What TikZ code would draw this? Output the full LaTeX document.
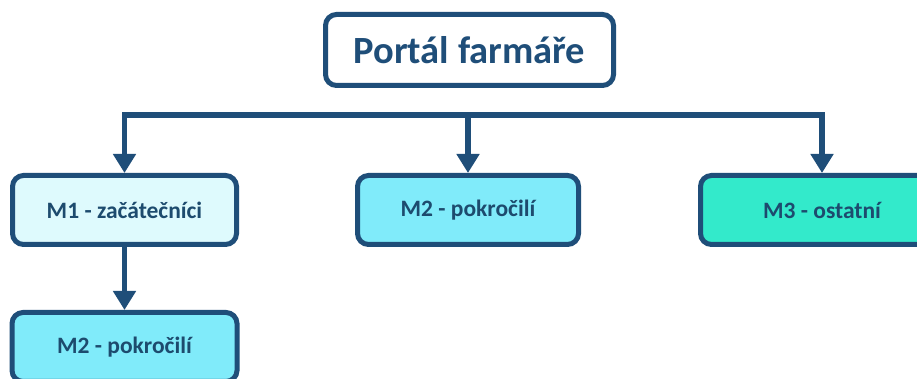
\documentclass[tikz,border=0pt]{standalone}
\usepackage{fontspec}
\setmainfont{Carlito}
\usetikzlibrary{arrows.meta}
\definecolor{navy}{HTML}{1F4E79}
\definecolor{txt}{HTML}{1D4B6E}
\definecolor{f1}{HTML}{DEFAFD}
\definecolor{f2}{HTML}{80EBFA}
\definecolor{f3}{HTML}{33EACB}
\tikzset{
  box/.style={draw=navy, line width=5pt, rounded corners=11pt, inner sep=0pt,
    text=txt, font=\fontsize{23.5}{27}\selectfont\bfseries, align=center},
  conn/.style={draw=navy, line width=5.5pt},
  arr/.style={conn, -{Triangle[width=22pt,length=19pt]}},
}
\begin{document}
\begin{tikzpicture}[x=1pt,y=1pt]
\useasboundingbox (0,0) rectangle (917,379);
\clip (0,0) rectangle (917,379);
\fill[white] (0,0) rectangle (917,379);
\node[box, fill=white, minimum width=288pt, minimum height=71pt,
  font=\fontsize{38.5}{44}\selectfont\bfseries, text=navy] (top) at (469.5,329) {Portál farmáře};
\node[box, fill=f1, minimum width=224pt, minimum height=69pt] (m1) at (124.5,169) {M1 - začátečníci};
\node[box, fill=f2, minimum width=221pt, minimum height=69pt] (m2) at (468,169) {M2 - pokročilí};
\node[box, fill=f3, minimum width=243pt, minimum height=69pt] (m3) at (822,169) {M3 - ostatní};
\node[box, fill=f2, minimum width=225pt, minimum height=69pt] (m2b) at (124.5,32) {M2 - pokročilí};
\coordinate (bl) at (m1.north |- 0,264);
\coordinate (bm) at (m2.north |- 0,264);
\coordinate (br) at (m3.north |- 0,264);
\draw[conn, line cap=rect] (bl) -- (br);
\draw[arr] (bl) -- (m1.north);
\draw[arr] (bm) -- (m2.north);
\draw[arr] (br) -- (m3.north);
\draw[arr] (m1.south) -- (m2b.north);
\end{tikzpicture}
\end{document}
